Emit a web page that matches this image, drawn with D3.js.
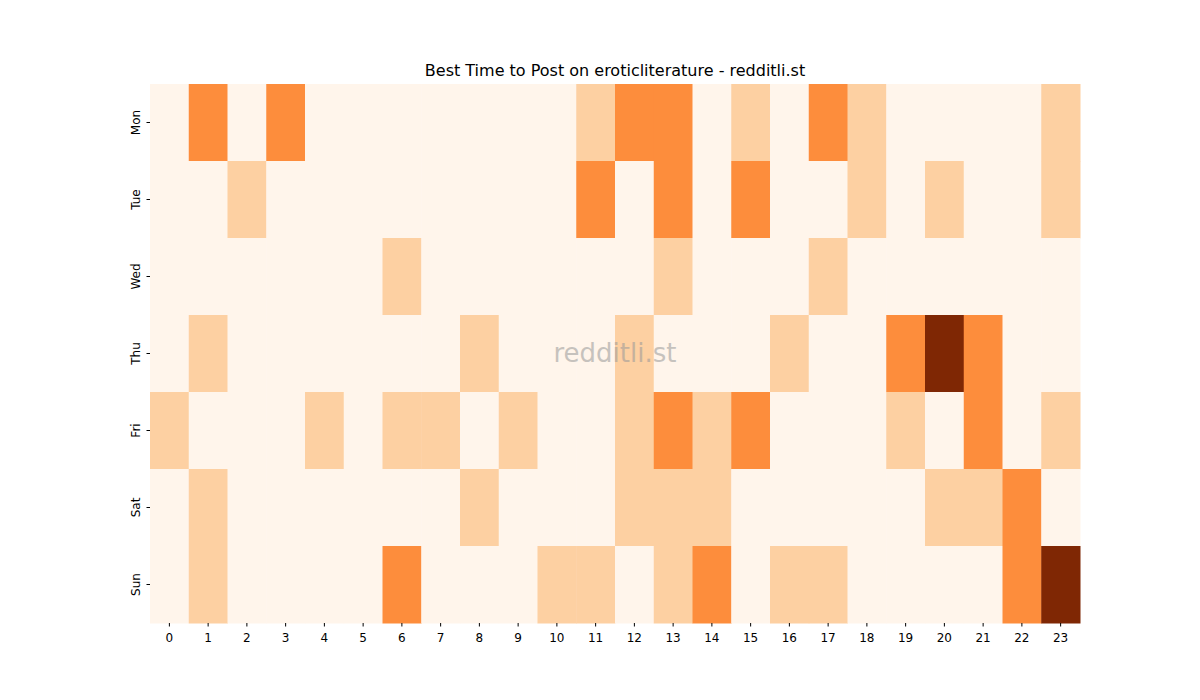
<!DOCTYPE html>
<html><head><meta charset="utf-8">
<script src="https://cdn.jsdelivr.net/npm/d3@7"></script>
<style>body{margin:0;background:#fff}svg{font-family:"DejaVu Sans",sans-serif}</style>
</head><body><svg id="c" width="1200" height="700"></svg>
<script>
const days=["Mon","Tue","Wed","Thu","Fri","Sat","Sun"];
const hours=d3.range(24).map(String);
const mon=[0,2,0,2,0,0,0,0,0,0,0,1,2,2,0,1,0,2,1,0,0,0,0,1];
const tue=[0,0,1,0,0,0,0,0,0,0,0,2,0,2,0,2,0,0,1,0,1,0,0,1];
const wed=[0,0,0,0,0,0,1,0,0,0,0,0,0,1,0,0,0,1,0,0,0,0,0,0];
const thu=[0,1,0,0,0,0,0,0,1,0,0,0,1,0,0,0,1,0,0,2,3,2,0,0];
const fri=[1,0,0,0,1,0,1,1,0,1,0,0,1,2,1,2,0,0,0,1,0,2,0,1];
const sat=[0,1,0,0,0,0,0,0,1,0,0,0,1,1,1,0,0,0,0,0,1,1,2,0];
const sun=[0,1,0,0,0,0,2,0,0,0,1,1,0,1,2,0,1,1,0,0,0,0,2,3];
const rows=[mon,tue,wed,thu,fri,sat,sun];
const colors=["#fff5eb","#fdd0a2","#fd8d3c","#7f2704"];
const svg=d3.select("#c");
const x=d3.scaleBand().domain(hours).range([150,1080]);
const y=d3.scaleBand().domain(days).range([84,623]);
const cells=[];rows.forEach((r,i)=>r.forEach((v,j)=>cells.push({d:days[i],h:hours[j],v})));
svg.selectAll("rect").data(cells).join("rect")
 .attr("x",d=>x(d.h)).attr("y",d=>y(d.d)).attr("width",x.bandwidth()+0.5).attr("height",y.bandwidth()+0.5)
 .attr("fill",d=>colors[d.v]);
const xa=svg.append("g").attr("transform","translate(0,623)").call(d3.axisBottom(x).tickSize(3.5));
const ya=svg.append("g").attr("transform","translate(150,0)").call(d3.axisLeft(y).tickSize(3.5));
[xa,ya].forEach(a=>{a.select(".domain").remove();a.selectAll("text").attr("font-size",12).attr("fill","#000").attr("font-family","DejaVu Sans");a.selectAll("line").attr("stroke","#000");});
xa.selectAll("text").attr("dy","1em");
ya.selectAll("text").attr("transform",function(){return null}).each(function(){
 const t=d3.select(this);t.attr("text-anchor","middle").attr("dy",0).attr("x",0)
 .attr("transform",`translate(-10,0) rotate(-90)`).attr("dominant-baseline","auto");});
svg.append("text").attr("x",615).attr("y",76).attr("text-anchor","middle").attr("font-size",16).text("Best Time to Post on eroticliterature - redditli.st");
svg.append("text").attr("x",615).attr("y",362).attr("text-anchor","middle").attr("font-size",26).attr("fill","#999").attr("opacity",0.55).text("redditli.st");
</script></body></html>
